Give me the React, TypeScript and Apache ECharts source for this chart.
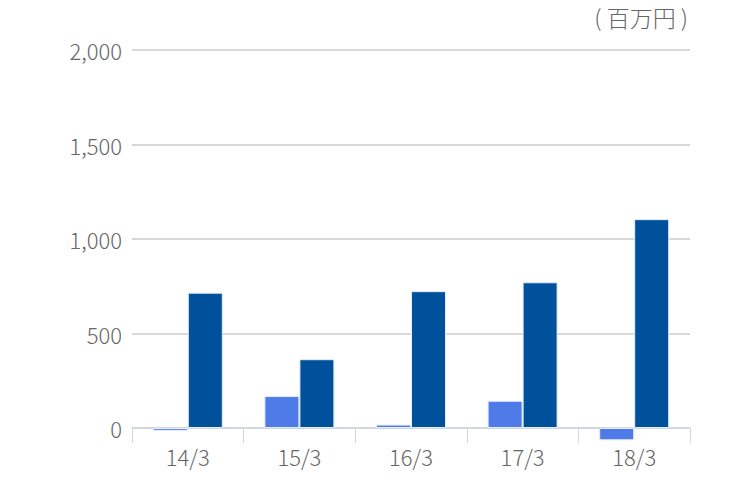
import React, { useEffect, useRef } from "react";
import * as echarts from "echarts";

const categories = ["14/3", "15/3", "16/3", "17/3", "18/3"];
const seriesA = [-15, 169, 18, 144, -65];
const seriesB = [716, 364, 724, 771, 1105];
const unitLabel = "( 百万円 )";

export default function App() {
  const ref = useRef<HTMLDivElement>(null);
  useEffect(() => {
    const chart = echarts.init(ref.current!, null, { renderer: "svg" });
    const font = "'Noto Sans CJK JP', 'Noto Sans', sans-serif";
    chart.setOption({
      animation: false,
      grid: { left: 132, right: 60, top: 50, bottom: 52 },
      graphic: [
        {
          type: "text",
          right: 62,
          top: 5,
          style: { text: unitLabel, font: `300 23px ${font}`, fill: "#666666" },
        },
      ],
      xAxis: {
        type: "category",
        data: categories,
        axisLine: { lineStyle: { color: "#ccd6eb", width: 1 } },
        axisTick: { show: true, length: 15, lineStyle: { color: "#ccd6eb" } },
        axisLabel: { color: "#666666", fontSize: 22, fontWeight: 300, fontFamily: font, margin: 17 },
      },
      yAxis: {
        type: "value",
        min: 0,
        max: 2000,
        interval: 500,
        axisLine: { show: false },
        axisTick: { show: false },
        splitLine: { lineStyle: { color: "#d8d8d8", width: 2 } },
        axisLabel: {
          color: "#666666",
          fontSize: 22,
          fontWeight: 300,
          fontFamily: font,
          margin: 10,
          formatter: (v: number) => v.toLocaleString("en-US"),
        },
      },
      series: [
        {
          type: "bar",
          data: seriesA,
          barWidth: 35,
          barGap: "0%",
          clip: false,
          itemStyle: { color: "#4f7be8", borderColor: "#e6ecf8", borderWidth: 1 },
        },
        {
          type: "bar",
          data: seriesB,
          barWidth: 35,
          barGap: "0%",
          clip: false,
          itemStyle: { color: "#00519c", borderColor: "#e6ecf8", borderWidth: 1 },
        },
      ],
    });
    return () => chart.dispose();
  }, []);
  return <div ref={ref} style={{ width: 750, height: 480, margin: -8 }} />;
}
